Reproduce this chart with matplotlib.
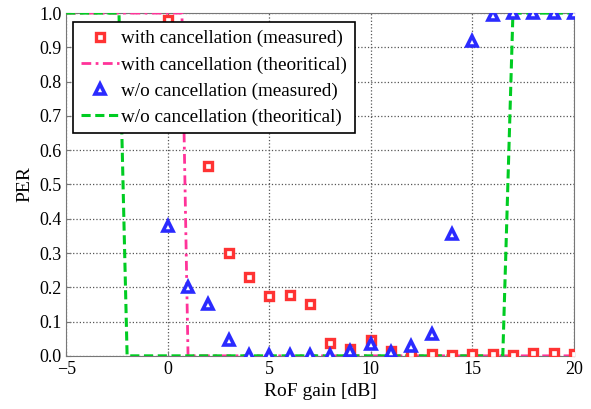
import matplotlib
matplotlib.use("Agg")
import matplotlib.pyplot as plt
import numpy as np

plt.rcParams['font.family'] = ['Liberation Serif', 'DejaVu Serif']

# measured points
gain = np.arange(0, 21)
per_with_meas = [0.98, 0.83, 0.555, 0.30, 0.23, 0.175, 0.178, 0.15, 0.037, 0.02,
                 0.045, 0.015, 0.005, 0.005, 0.003, 0.004, 0.005, 0.003, 0.007, 0.008, 0.005]
per_wo_meas = [0.38, 0.20, 0.15, 0.045, 0.003, 0.003, 0.003, 0.003, 0.003, 0.015,
               0.035, 0.012, 0.03, 0.065, 0.355, 0.92, 0.995, 1.0, 1.0, 1.0, 1.0]

# theoretical curves
x_with_th = [-5, 0.7, 1.0, 20]
y_with_th = [1.0, 1.0, 0.0, 0.0]
x_wo_th = [-5, -2.4, -2.0, 16.5, 17.0, 20]
y_wo_th = [1.0, 1.0, 0.0, 0.0, 1.0, 1.0]

fig = plt.figure(figsize=(5.91, 4.09), dpi=100)
ax = fig.add_axes([0.112, 0.130, 0.859, 0.838])

ax.plot(gain, per_with_meas, linestyle='', marker='s', markersize=5.5,
        markerfacecolor='white', markeredgecolor='#ff3333', markeredgewidth=2.4,
        label='with cancellation (measured)', zorder=4)
ax.plot(x_with_th, y_with_th, color='#ff3399', linestyle='-.', linewidth=2,
        dashes=(3.5, 1.6, 1, 1.6), label='with cancellation (theoritical)', zorder=3)
ax.plot(gain, per_wo_meas, linestyle='', marker='^', markersize=7,
        markerfacecolor='white', markeredgecolor='#2b2bff', markeredgewidth=2.6,
        label='w/o cancellation (measured)', zorder=5)
ax.plot(x_wo_th, y_wo_th, color='#00cc22', linestyle='--', linewidth=2.2,
        dashes=(3, 1.5), label='w/o cancellation (theoritical)', zorder=3)

ax.set_xlim(-5, 20)
ax.set_ylim(0, 1)
ax.set_xticks(np.arange(-5, 21, 5))
ax.set_yticks(np.arange(0, 1.01, 0.1))
ax.set_yticklabels([f"{v:.1f}" for v in np.arange(0, 1.01, 0.1)])
ax.tick_params(direction='in', labelsize=13, color='#777777')
ax.grid(True, linestyle=':', color='#555555', linewidth=0.9)
for s in ax.spines.values():
    s.set_color('#777777')

ax.set_xlabel('RoF gain [dB]', fontsize=14)
ax.set_ylabel('PER', fontsize=14)

leg = ax.legend(loc='upper left', bbox_to_anchor=(0.014, 0.973), fontsize=13.8,
                frameon=True, fancybox=False, edgecolor='black', framealpha=1,
                borderpad=0.4, labelspacing=0.45, handlelength=2.0, handletextpad=0.1,
                borderaxespad=0)
leg.get_frame().set_linewidth(1.2)

fig.savefig('out.png', dpi=100)
